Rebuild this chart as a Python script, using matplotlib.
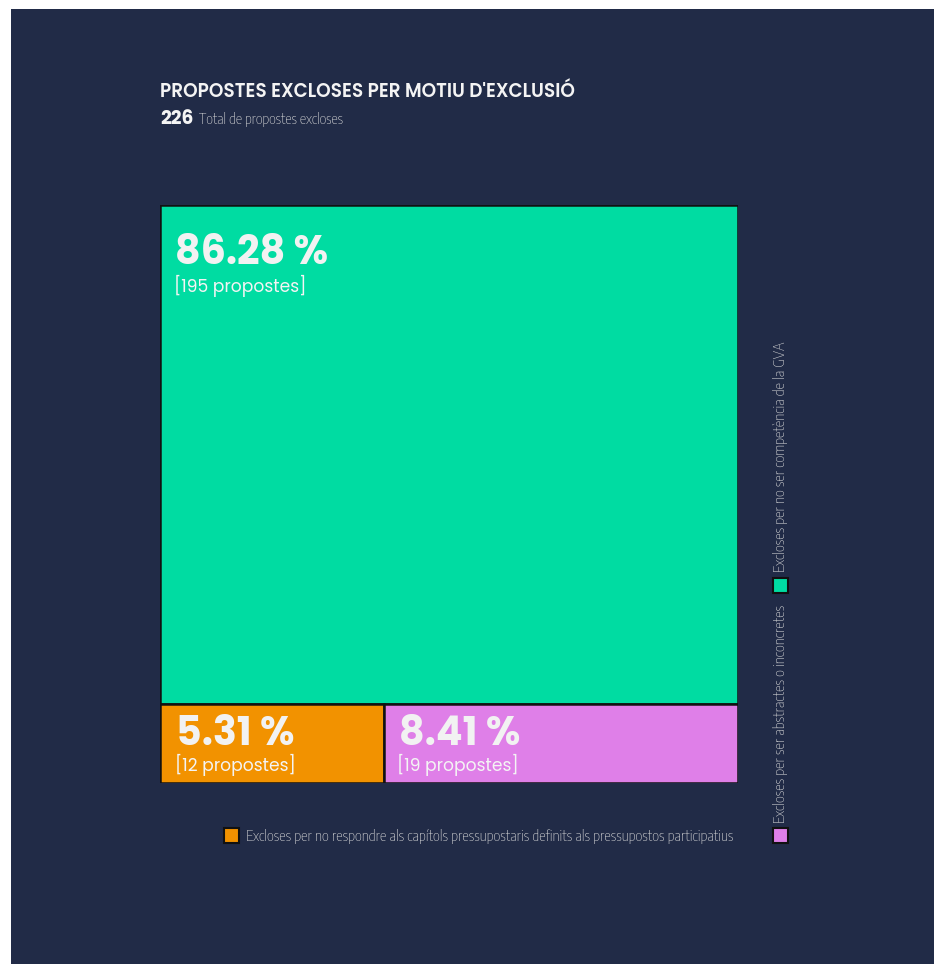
import matplotlib
matplotlib.use("Agg")
import matplotlib.pyplot as plt
from matplotlib.patches import Rectangle

# dades del gràfic
categories = ["Excloses per no ser competència de la GVA",
              "Excloses per no respondre als capítols pressupostaris definits als pressupostos participatius",
              "Excloses per ser abstractes o inconcretes"]
counts = [195, 12, 19]
colors = ["#00dca2", "#f29200", "#df7fe8"]
title = "PROPOSTES EXCLOSES PER MOTIU D'EXCLUSIÓ"
subtitle = "Total de propostes excloses"

BG = "#212b47"
W, H = 934, 964
BIG = ["Poppins", "DejaVu Sans"]
THIN = ["Encode Sans Condensed", "DejaVu Sans"]

def fx(px):
    return px / W

def fy(py):
    return 1 - py / H

total = sum(counts)

fig = plt.figure(figsize=(W / 100, H / 100), dpi=100, facecolor="white")
# fons fosc (marge blanc a l'esquerra i dalt)
fig.patches.append(Rectangle((fx(11), 0), 1 - fx(11), fy(9), transform=fig.transFigure,
                             facecolor=BG, edgecolor="none", zorder=-5))

# capçalera
fig.text(fx(160), fy(97), title, family=BIG, fontweight="semibold", fontsize=13.3, color="#f4f4f4")
fig.text(fx(160), fy(124), str(total), family=BIG, fontweight="bold", fontsize=13.5, color="#f4f4f4")
fig.text(fx(199), fy(124), subtitle, family=THIN, fontweight="light", fontsize=10.6, color="#dcdcdc")

# treemap
ax = fig.add_axes([fx(160), fy(783), fx(578), 578 / H])
ax.set_xlim(0, 1)
ax.set_ylim(1, 0)
ax.axis("off")

h_top = counts[0] / total
w_left = counts[1] / (counts[1] + counts[2])
rects = [(0, 0, 1, h_top), (0, h_top, w_left, 1 - h_top), (w_left, h_top, 1 - w_left, 1 - h_top)]
# desplaçaments del text (pixels des de la cantonada superior esquerra)
label_off = [(15, 59, 87), (16, 41, 67), (15, 41, 67)]

for (x, y, w, h), c, n, off in zip(rects, colors, counts, label_off):
    ax.add_patch(Rectangle((x, y), w, h, facecolor=c, edgecolor="#111111", linewidth=1.8))
    pct = f"{100 * n / total:.2f} %"
    ax.annotate(pct, (x, y), xytext=(off[0] * 0.72, -off[1] * 0.72), textcoords="offset points",
                va="baseline", ha="left", family=BIG, fontweight="bold", fontsize=28.5, color="#f2f2f2")
    ax.annotate(f"[{n} propostes]", (x, y), xytext=(off[0] * 0.72 - 1, -off[2] * 0.72),
                textcoords="offset points", va="baseline", ha="left", family=BIG,
                fontweight="normal", fontsize=12.3, color="#f4f4f4")

# llegenda
def swatch(px, py, c):
    fig.patches.append(Rectangle((fx(px), fy(py + 15)), fx(15), 15 / H, transform=fig.transFigure,
                                 facecolor=c, edgecolor="#111111", linewidth=1.5, zorder=3))

swatch(224, 828, colors[1])
fig.text(fx(246), fy(836), categories[1], family=THIN, fontweight="light", fontsize=10.8,
         color="#dcdcdc", va="center")
swatch(773, 828, colors[2])
fig.text(fx(781), fy(823), categories[2], family=THIN, fontweight="light", fontsize=10.8,
         color="#dcdcdc", rotation=90, ha="center", va="bottom")
swatch(773, 578, colors[0])
fig.text(fx(781), fy(572), categories[0], family=THIN, fontweight="light", fontsize=10.8,
         color="#dcdcdc", rotation=90, ha="center", va="bottom")

fig.savefig("out.png", dpi=100, facecolor="white")
